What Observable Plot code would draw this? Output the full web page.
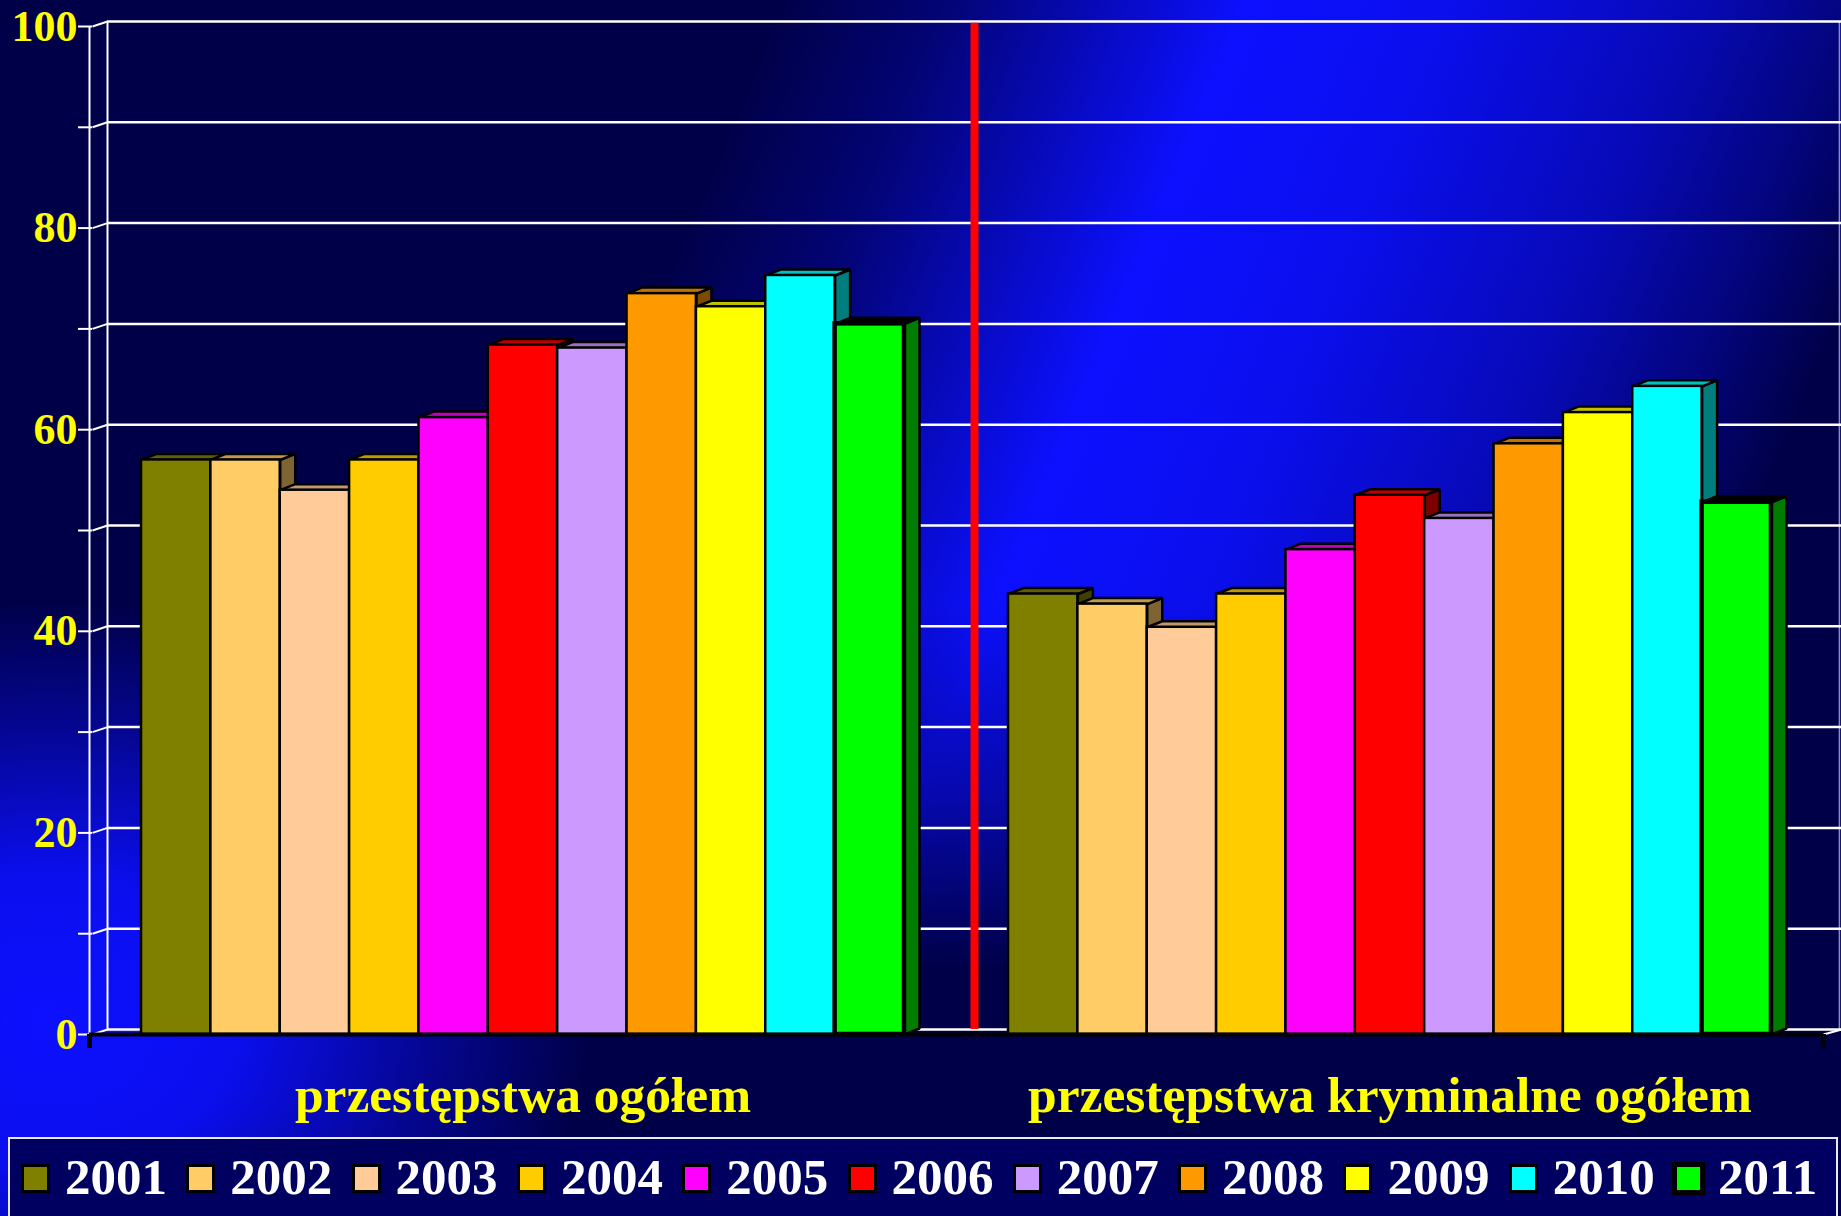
<!DOCTYPE html>
<html>
<head>
<meta charset="utf-8">
<script src="https://cdn.jsdelivr.net/npm/d3@7"></script>
<script src="https://cdn.jsdelivr.net/npm/@observablehq/plot@0.6"></script>
<style>
  html, body { margin: 0; padding: 0; background: #000048; }
  #wrap {
    position: relative; width: 1841px; height: 1216px; overflow: hidden; background: #000048;
    font-family: "Liberation Serif", "Times New Roman", serif;
  }
  #bg, #chart { position: absolute; left: 0; top: 0; }
  #legend {
    position: absolute; left: 8px; top: 1137px; width: 1830px; height: 110px;
    box-sizing: border-box; border: 2.5px solid #e8e8ff; background: #000060;
  }
  .sw { position: absolute; top: 1164px; width: 29px; height: 29px; box-sizing: border-box; border: 3px solid #000; }
  .lt { position: absolute; top: 1152px; font: bold 51px/51px "Liberation Serif", serif; color: #fff; white-space: nowrap; }
</style>
</head>
<body>
<div id="wrap"><div id="bg"></div><div id="chart"></div><div id="legend"></div></div>
<script>
// ---- data ----
const categories = ["przestępstwa ogółem", "przestępstwa kryminalne ogółem"];
const years = ["2001", "2002", "2003", "2004", "2005", "2006", "2007", "2008", "2009", "2010", "2011"];
const ogolem = [57.0, 57.0, 54.0, 57.0, 61.2, 68.4, 68.1, 73.5, 72.2, 75.3, 70.5];
const kryminalne = [43.7, 42.7, 40.4, 43.7, 48.1, 53.5, 51.2, 58.6, 61.7, 64.3, 52.8];
const colors = ["#808000", "#ffcc66", "#ffcc99", "#ffcc00", "#ff00ff", "#ff0000", "#cc99ff", "#ff9900", "#ffff00", "#00ffff", "#00ff00"];
const yTickLabels = [0, 20, 40, 60, 80, 100];
const yTicks = [0, 10, 20, 30, 40, 50, 60, 70, 80, 90, 100];

// ---- background (decorative gradients) ----
(function drawBackground() {
  const svg = d3.select("#bg").append("svg").attr("width", 1841).attr("height", 1216);
  const defs = svg.append("defs");
  const band = defs.append("linearGradient").attr("id", "band").attr("gradientUnits", "userSpaceOnUse")
    .attr("x1", 0).attr("y1", 0).attr("x2", 2125).attr("y2", 892);
  [[0, 0], [0.31, 0], [0.38, 0.25], [0.445, 0.65], [0.5, 1], [0.58, 0.9], [0.68, 0.6], [0.74, 0.3], [0.79, 0]]
    .forEach(([o, a]) => band.append("stop").attr("offset", o).attr("stop-color", "#0c10ff").attr("stop-opacity", a));
  const fade = defs.append("linearGradient").attr("id", "fade").attr("gradientUnits", "userSpaceOnUse")
    .attr("x1", 0).attr("y1", 0).attr("x2", 0).attr("y2", 1000);
  [[0, 1], [0.6, 1], [0.8, 0.55], [0.97, 0]]
    .forEach(([o, a]) => fade.append("stop").attr("offset", o).attr("stop-color", "#fff").attr("stop-opacity", a));
  defs.append("mask").attr("id", "m").append("rect").attr("width", 1841).attr("height", 1216).attr("fill", "url(#fade)");
  const glow = defs.append("radialGradient").attr("id", "glow");
  [[0, 1], [0.35, 0.9], [0.7, 0.4], [1, 0]]
    .forEach(([o, a]) => glow.append("stop").attr("offset", o).attr("stop-color", "#0c10ff").attr("stop-opacity", a));
  svg.append("rect").attr("width", 1841).attr("height", 1216).attr("fill", "#000048");
  svg.append("rect").attr("width", 1841).attr("height", 1216).attr("fill", "url(#band)").attr("mask", "url(#m)");
  svg.append("ellipse").attr("cx", 50).attr("cy", 1020).attr("rx", 540).attr("ry", 420).attr("fill", "url(#glow)");
})();

// ---- layout ----
const W = 1841, H = 1137;
const mL = 89, mR = 18, mT = 26, mB = H - 1034;
const xMax = 25;
const pxX = (W - mL - mR) / xMax, pxY = (H - mT - mB) / 100;
const BX = 15 / pxX, BY = 6 / pxY;   // bar depth
const WX = 18 / pxX, WY = 5 / pxY;   // wall depth
const groupStart = [0.75, 13.25];
const seriesByGroup = [ogolem, kryminalne];

const bars = [];
categories.forEach((c, g) => {
  years.forEach((yr, i) => {
    const x1 = groupStart[g] + i;
    const base = d3.color(colors[i]);
    bars.push({
      id: g + "-" + i, year: yr, value: seriesByGroup[g][i], x1, x2: x1 + 1,
      fill: colors[i],
      top: i === 10 ? "#000000" : base.darker(0.8).formatHex(),
      side: base.darker(2).formatHex(),
      sw: i === 10 ? 4.5 : 2.5
    });
  });
});
const sides = bars.flatMap(b => [
  [b.x2, 0], [b.x2 + BX, BY], [b.x2 + BX, b.value + BY], [b.x2, b.value], [b.x2, 0]
].map(([x, y]) => ({id: b.id, x, y, fill: b.side})));
const tops = bars.flatMap(b => [
  [b.x1, b.value], [b.x1 + BX, b.value + BY], [b.x2 + BX, b.value + BY], [b.x2, b.value], [b.x1, b.value]
].map(([x, y]) => ({id: b.id, x, y, fill: b.top})));

const font = "Liberation Serif";
const chart = Plot.plot({
  width: W, height: H,
  marginLeft: mL, marginRight: mR, marginTop: mT, marginBottom: mB,
  x: {domain: [0, xMax], axis: null},
  y: {domain: [0, 100], axis: null},
  color: {type: "identity"},
  style: {background: "transparent", overflow: "visible", fontFamily: font},
  marks: [
    // left wall edges
    Plot.ruleX([0], {y1: 0, y2: 100, stroke: "#ffffff", strokeWidth: 2}),
    Plot.ruleX([WX], {y1: WY, y2: 100 + WY, stroke: "#ffffff", strokeWidth: 2}),
    Plot.ruleX([xMax + WX - 0.03], {y1: WY, y2: 100 + WY, stroke: "#8a8ac8", strokeWidth: 1.5}),
    // back wall gridlines
    Plot.ruleY(yTicks, {y: d => d + WY, x1: WX, x2: xMax + WX, stroke: "#ffffff", strokeWidth: 2.5}),
    // side wall ticks
    Plot.ruleY(yTicks, {y: d => d, x1: -11 / pxX, x2: 3 / pxX, stroke: "#ffffff", strokeWidth: 2}),
    Plot.link(yTicks, {x1: 3 / pxX, y1: d => d, x2: WX, y2: d => d + WY, stroke: "#ffffff", strokeWidth: 2}),
    Plot.link([0], {x1: xMax, y1: 0, x2: xMax + WX, y2: WY, stroke: "#ffffff", strokeWidth: 2}),
    // red separator
    Plot.ruleX([12.5 + WX], {y1: WY, y2: 100 + WY - 0.18, stroke: "#ff0000", strokeWidth: 8}),
    // 3D bars
    Plot.line(sides, {x: "x", y: "y", z: "id", fill: "fill", stroke: "#000", strokeWidth: 2.5, strokeLinejoin: "miter"}),
    Plot.line(tops, {x: "x", y: "y", z: "id", fill: "fill", stroke: "#000", strokeWidth: 2.5, strokeLinejoin: "miter"}),
    Plot.rect(bars, {x1: "x1", x2: "x2", y1: 0, y2: "value", fill: "fill", stroke: "#000", strokeWidth: "sw"}),
    // floor front edge
    Plot.ruleY([0], {x1: 0, x2: xMax, stroke: "#000", strokeWidth: 4}),
    Plot.ruleX([0, xMax], {y1: 0, y2: -14 / pxY, stroke: "#000", strokeWidth: 5}),
    // y labels
    Plot.text(yTickLabels, {x: 0, y: d => d, dx: -12, text: d => String(d), textAnchor: "end",
      fill: "#ffff00", fontSize: 44, fontWeight: "bold", fontFamily: font}),
    // category labels
    Plot.text(categories, {x: (d, i) => groupStart[i] + 5.5, y: 0, dy: 77, lineAnchor: "bottom",
      text: d => d, fill: "#ffff00", fontSize: 51.5, fontWeight: "bold", fontFamily: font})
  ]
});
document.getElementById("chart").appendChild(chart);

// ---- legend ----
const wrap = document.getElementById("wrap");
years.forEach((yr, i) => {
  const sw = document.createElement("div");
  sw.className = "sw";
  sw.style.left = (21 + 165.3 * i) + "px";
  sw.style.background = colors[i];
  if (i === 10) { sw.style.borderWidth = "5px"; sw.style.left = (19 + 165.3 * i) + "px"; sw.style.width = "33px"; sw.style.height = "33px"; sw.style.top = "1162px"; }
  wrap.appendChild(sw);
  const lt = document.createElement("div");
  lt.className = "lt";
  lt.style.left = (65 + 165.3 * i) + "px";
  lt.textContent = yr;
  wrap.appendChild(lt);
});
</script>
</body>
</html>
